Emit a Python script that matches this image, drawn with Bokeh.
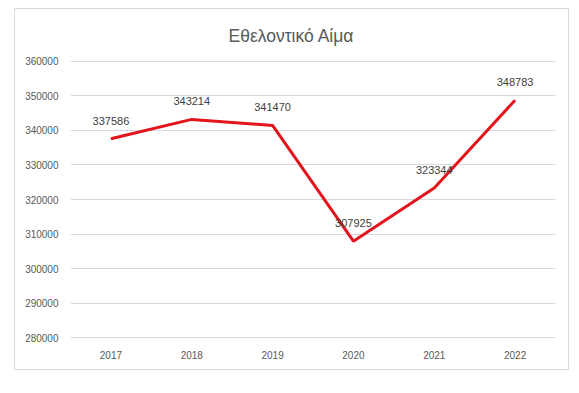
from bokeh.plotting import figure
from bokeh.models import (ColumnDataSource, FixedTicker, Range1d, FactorRange,
                          NumeralTickFormatter, Spacer)
from bokeh.layouts import row, column
from bokeh.core.properties import value
from bokeh.embed import file_html
from bokeh.resources import INLINE

years = ["2017", "2018", "2019", "2020", "2021", "2022"]
donations = [337586, 343214, 341470, 307925, 323344, 348783]
y_ticks = [280000, 290000, 300000, 310000, 320000, 330000, 340000, 350000, 360000]
title_text = "Εθελοντικό Αίμα"

src = ColumnDataSource(dict(x=years, y=donations, lab=[str(v) for v in donations]))

p = figure(width=553, height=360, x_range=FactorRange(*years),
           y_range=Range1d(279425, 360575), output_backend="svg",
           toolbar_location=None, title=title_text,
           min_border_left=55, min_border_right=13, min_border_top=48,
           min_border_bottom=30)

p.title.align = "left"
p.title.offset = 158
p.title.standoff = 28
p.title.text_font = "Liberation Sans"
p.title.text_font_size = "17.5px"
p.title.text_font_style = "normal"
p.title.text_color = "#595959"

p.outline_line_color = None
p.background_fill_color = "white"
p.border_fill_color = "white"

p.xgrid.grid_line_color = None
p.ygrid.grid_line_color = "#d9d9d9"
p.ygrid.grid_line_width = 1

p.yaxis.ticker = FixedTicker(ticks=y_ticks)
p.yaxis.formatter = NumeralTickFormatter(format="0")
for ax in (p.xaxis[0], p.yaxis[0]):
    ax.axis_line_color = None
    ax.major_tick_line_color = None
    ax.minor_tick_line_color = None
    ax.major_label_text_font = "Liberation Sans"
    ax.major_label_text_font_size = "10px"
    ax.major_label_text_color = "#595959"
p.yaxis.major_label_standoff = 6
p.xaxis.major_label_standoff = 5

p.line("x", "y", source=src, line_color="#e3141b", line_width=3)
p.text("x", "y", text="lab", source=src, text_align="center",
       text_baseline="middle", y_offset=-18,
       text_font=value("Liberation Sans"), text_font_size="11px",
       text_color="#404040")

boxed = column(p, styles={"border": "1px solid #d9d9d9"})
layout = row(Spacer(width=14), column(Spacer(height=8), boxed))

open("out.html", "w").write(file_html(layout, INLINE))
